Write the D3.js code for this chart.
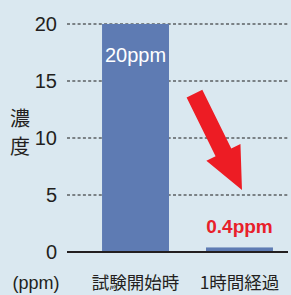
<!DOCTYPE html>
<html>
<head>
<meta charset="utf-8">
<script src="https://cdn.jsdelivr.net/npm/d3@7"></script>
<style>
  html, body { margin: 0; padding: 0; background: #dae8f0; }
  svg { display: block; }
</style>
</head>
<body>
<svg id="chart"></svg>
<script>
// data
const categories = ["試験開始時", "1時間経過"];
const values = [20, 0.4];
const valueLabels = ["20ppm", "0.4ppm"];
const yTicks = [0, 5, 10, 15, 20];
const yTitle = ["濃", "度"];
const unitLabel = "(ppm)";
// arrow annotation, in (category index, value) terms
const arrowFrom = [0.567, 13.9];
const arrowTo = [1.024, 5.44];

const width = 291, height = 295;
const latin = "'Liberation Sans', Arial, sans-serif";
const cjk = "'Noto Sans CJK JP', sans-serif";

const svg = d3.select("#chart")
    .attr("width", width)
    .attr("height", height)
    .attr("viewBox", [0, 0, width, height]);

svg.append("rect").attr("width", width).attr("height", height).attr("fill", "#dae8f0");

const x = d3.scaleBand()
    .domain(categories)
    .range([67, 308])
    .paddingInner(0.356)
    .paddingOuter(0.337);

const y = d3.scaleLinear()
    .domain([0, 20])
    .range([252, 24]);

// index -> band centre, used for the arrow
const xi = d3.scaleLinear()
    .domain([0, 1])
    .range([x(categories[0]) + x.bandwidth() / 2, x(categories[1]) + x.bandwidth() / 2]);

const gridRight = 288;

// dashed grid
svg.append("g")
    .selectAll("line")
    .data(yTicks.filter(d => d > 0))
    .join("line")
    .attr("x1", 67).attr("x2", gridRight)
    .attr("y1", d => y(d)).attr("y2", d => y(d))
    .attr("stroke", "#1a1a1a")
    .attr("stroke-width", 1)
    .attr("stroke-dasharray", "3,2.3");

// y tick labels
svg.append("g")
    .selectAll("text")
    .data(yTicks)
    .join("text")
    .attr("x", 57)
    .attr("y", d => y(d) + 7)
    .attr("text-anchor", "end")
    .attr("font-family", latin)
    .attr("font-size", 20)
    .attr("fill", "#231f20")
    .text(d => d);

// bars
svg.append("g")
    .selectAll("rect")
    .data(values)
    .join("rect")
    .attr("x", (d, i) => x(categories[i]))
    .attr("y", d => y(d))
    .attr("width", x.bandwidth())
    .attr("height", d => y(0) - y(d))
    .attr("fill", "#5e7bb3");

// baseline
svg.append("line")
    .attr("x1", 67).attr("x2", gridRight)
    .attr("y1", y(0)).attr("y2", y(0))
    .attr("stroke", "#231f20")
    .attr("stroke-width", 2);

// value labels
svg.append("text")
    .attr("x", x(categories[0]) + x.bandwidth() / 2)
    .attr("y", y(values[0]) + 38)
    .attr("text-anchor", "middle")
    .attr("font-family", latin)
    .attr("font-size", 20)
    .attr("fill", "white")
    .text(valueLabels[0]);

svg.append("text")
    .attr("x", x(categories[1]) + x.bandwidth() / 2)
    .attr("y", 233)
    .attr("text-anchor", "middle")
    .attr("font-family", latin)
    .attr("font-size", 19)
    .attr("font-weight", "bold")
    .attr("fill", "#e8202a")
    .text(valueLabels[1]);

// category labels
svg.append("g")
    .selectAll("text")
    .data(categories)
    .join("text")
    .attr("x", d => x(d) + x.bandwidth() / 2)
    .attr("y", 289)
    .attr("text-anchor", "middle")
    .attr("font-family", cjk)
    .attr("font-size", 17.5)
    .attr("fill", "#231f20")
    .text(d => d);

svg.append("text")
    .attr("x", 36)
    .attr("y", 289)
    .attr("text-anchor", "middle")
    .attr("font-family", latin)
    .attr("font-size", 18)
    .attr("fill", "#231f20")
    .text(unitLabel);

// vertical title
svg.append("g")
    .selectAll("text")
    .data(yTitle)
    .join("text")
    .attr("x", 20)
    .attr("y", (d, i) => 126 + i * 28)
    .attr("text-anchor", "middle")
    .attr("font-family", cjk)
    .attr("font-size", 20)
    .attr("fill", "#231f20")
    .text(d => d);

// red arrow
const p0 = [xi(arrowFrom[0]), y(arrowFrom[1])];
const p1 = [xi(arrowTo[0]), y(arrowTo[1])];
const len = Math.hypot(p1[0] - p0[0], p1[1] - p0[1]);
const u = [(p1[0] - p0[0]) / len, (p1[1] - p0[1]) / len];
const n = [-u[1], u[0]];
const shaftW = 8.75, headW = 19, headL = 42;
const at = (t, s) => [p0[0] + u[0] * t + n[0] * s, p0[1] + u[1] * t + n[1] * s];
const arrowPts = [
    at(0, -shaftW), at(len - headL, -shaftW), at(len - headL, -headW),
    at(len, 0),
    at(len - headL, headW), at(len - headL, shaftW), at(0, shaftW)
];
svg.append("path")
    .attr("d", d3.line()(arrowPts) + "Z")
    .attr("fill", "#ed1c24");
</script>
</body>
</html>
